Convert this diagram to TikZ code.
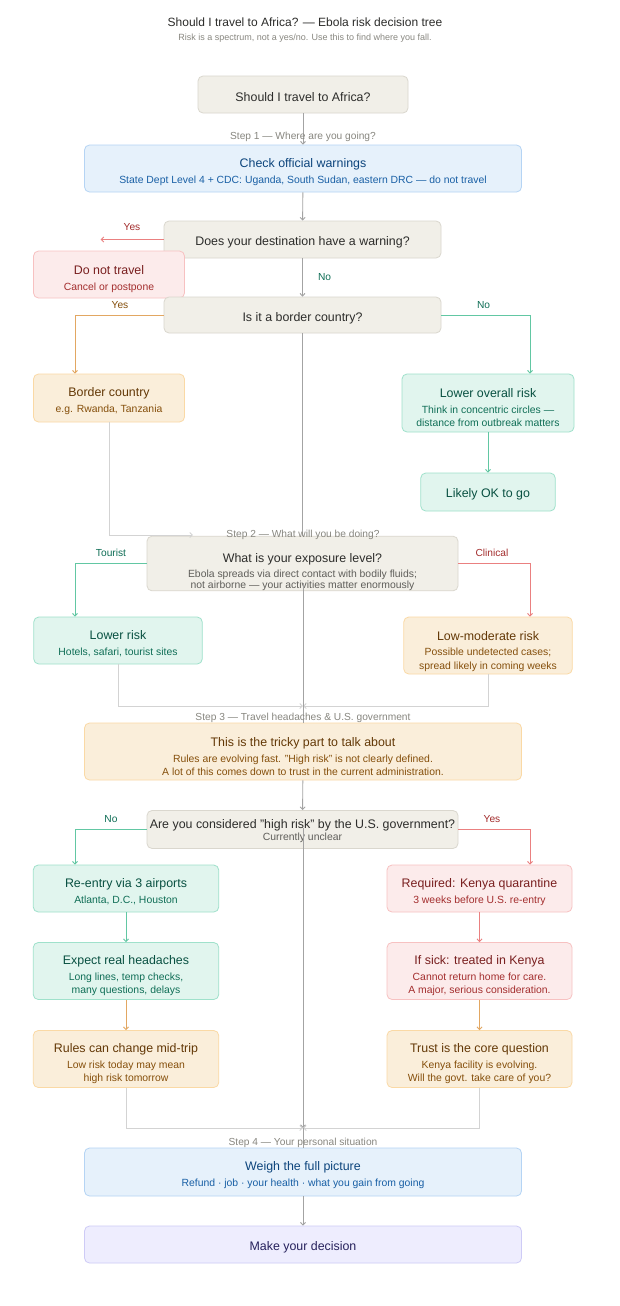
\documentclass[tikz,border=0pt]{standalone}
\usepackage{fontspec}
\setmainfont{Liberation Sans}
\usetikzlibrary{arrows.meta}
\definecolor{gfill}{HTML}{F1EFE8}\definecolor{gdraw}{HTML}{DAD7CE}\definecolor{gtext}{HTML}{2C2C2A}\definecolor{gsub}{HTML}{5F5E5A}
\definecolor{bfill}{HTML}{E6F1FB}\definecolor{bdraw}{HTML}{B5D4F4}\definecolor{btext}{HTML}{0C447C}\definecolor{bsub}{HTML}{185FA5}
\definecolor{rfill}{HTML}{FCEBEB}\definecolor{rdraw}{HTML}{F7C1C1}\definecolor{rtext}{HTML}{791F1F}\definecolor{rsub}{HTML}{A32D2D}
\definecolor{afill}{HTML}{FAEEDA}\definecolor{adraw}{HTML}{FAD9A5}\definecolor{atext}{HTML}{633806}\definecolor{asub}{HTML}{854F0B}
\definecolor{tfill}{HTML}{E1F5EE}\definecolor{tdraw}{HTML}{9FE1CB}\definecolor{ttext}{HTML}{085041}\definecolor{tsub}{HTML}{0F6E56}
\definecolor{pfill}{HTML}{EEEDFE}\definecolor{pdraw}{HTML}{CECBF6}\definecolor{ptext}{HTML}{26215C}
\definecolor{egray}{HTML}{A3A3A3}\definecolor{elight}{HTML}{D3D3D3}\definecolor{ered}{HTML}{EA8080}
\definecolor{egreen}{HTML}{62C7A3}\definecolor{eamber}{HTML}{E2A762}\definecolor{steptext}{HTML}{888780}
\newcommand\mytitle{\fontsize{12.4}{14}\selectfont}
\newcommand\mysub{\fontsize{10.4}{13.5}\selectfont}
\newcommand\mylab{\fontsize{10.2}{12}\selectfont}
\newcommand\myhA{\rule{0pt}{14pt}}
\newcommand\myhB{\rule{0pt}{16pt}}
\newcommand\myhC{\rule{0pt}{19pt}}
\tikzset{
  box/.style={rounded corners=5pt, line width=0.8pt, inner sep=0pt, align=center, anchor=center, font=\mysub},
  gbox/.style={box, fill=gfill, draw=gdraw, text=gtext},
  bbox/.style={box, fill=bfill, draw=bdraw, text=btext},
  rbox/.style={box, fill=rfill, draw=rdraw, text=rtext},
  abox/.style={box, fill=afill, draw=adraw, text=atext},
  tbox/.style={box, fill=tfill, draw=tdraw, text=ttext},
  pbox/.style={box, fill=pfill, draw=pdraw, text=ptext},
  tip/.style={-{Straight Barb[length=2.6pt,width=5pt]}},
  eg/.style={draw=egray, line width=0.9pt},
  el/.style={draw=elight, line width=0.9pt},
  er/.style={draw=ered, line width=0.9pt},
  egr/.style={draw=egreen, line width=0.9pt},
  ea/.style={draw=eamber, line width=0.9pt},
  steplab/.style={text=steptext, font=\mylab, inner sep=0pt},
  elab/.style={font=\mylab, inner sep=0pt},
}
\begin{document}
\begin{tikzpicture}[x=1pt,y=-1pt]
\fill[white] (0,0) rectangle (620,1306);
\useasboundingbox (0,0) rectangle (620,1306);

\node[text=gtext, font=\fontsize{12}{14}\selectfont, inner sep=0pt] (title) at (305,22) {Should I travel to Africa? — Ebola risk decision tree};
\node[text=steptext, font=\fontsize{9}{11}\selectfont, inner sep=0pt] (subtitle) at (305,38) {Risk is a spectrum, not a yes/no. Use this to find where you fall.};

% nodes
\node[gbox, minimum width=210, minimum height=37] (n0) at (303,94.5) {{\mytitle\myhA Should I travel to Africa?}};
\node[bbox, minimum width=437, minimum height=47] (check) at (303,168.5) {{\mytitle\myhB Check official warnings}\\[2.5pt]\textcolor{bsub}{State Dept Level 4 + CDC: Uganda, South Sudan, eastern DRC — do not travel}};
\node[gbox, minimum width=277, minimum height=37] (q1) at (302.5,239.5) {{\mytitle\myhA Does your destination have a warning?}};
\node[rbox, minimum width=151, minimum height=47] (dnt) at (109,274.5) {{\mytitle\rule{0pt}{18pt}Do not travel}\\[2.5pt]\textcolor{rsub}{Cancel or postpone}};
\node[gbox, minimum width=277, minimum height=36] (q2) at (302.5,315) {{\mytitle\rule{0pt}{15pt}Is it a border country?}};
\node[abox, minimum width=151, minimum height=48] (border) at (109,398) {{\mytitle\myhB Border country}\\[2.5pt]\textcolor{asub}{e.g. Rwanda, Tanzania}};
\node[tbox, minimum width=172, minimum height=58] (lowov) at (488,403) {{\mytitle\myhC Lower overall risk}\\[2pt]\textcolor{tsub}{Think in concentric circles —}\\\textcolor{tsub}{distance from outbreak matters}};
\node[tbox, minimum width=134.5, minimum height=38] (likely) at (488,492) {{\mytitle\myhA Likely OK to go}};
\node[gbox, minimum width=311, minimum height=49] (expo) at (302.5,563.5) {{\mytitle\rule{0pt}{26pt}What is your exposure level?}\\[2pt]\textcolor{gsub}{Ebola spreads via direct contact with bodily fluids;}\\[-2.5pt]\textcolor{gsub}{not airborne — your activities matter enormously}};
\node[tbox, minimum width=168.5, minimum height=47] (lowrisk) at (118,640.5) {{\mytitle\myhB Lower risk}\\[2.5pt]\textcolor{tsub}{Hotels, safari, tourist sites}};
\node[abox, minimum width=168.5, minimum height=57] (lowmod) at (488,645.5) {{\mytitle\rule{0pt}{21pt}Low-moderate risk}\\[2pt]\textcolor{asub}{Possible undetected cases;}\\\textcolor{asub}{spread likely in coming weeks}};
\node[abox, minimum width=437, minimum height=57] (tricky) at (303,751.5) {{\mytitle\rule{0pt}{20pt}This is the tricky part to talk about}\\[2pt]\textcolor{asub}{Rules are evolving fast. "High risk" is not clearly defined.}\\\textcolor{asub}{A lot of this comes down to trust in the current administration.}};
\node[gbox, minimum width=311, minimum height=38] (are) at (302.5,829.5) {{\mytitle\rule{0pt}{12pt}Are you considered "high risk" by the U.S. government?}\\[-2pt]\textcolor{gsub}{Currently unclear}};
\node[tbox, minimum width=185.5, minimum height=47] (reentry) at (126,888.5) {{\mytitle\myhB Re-entry via 3 airports}\\[2.5pt]\textcolor{tsub}{Atlanta, D.C., Houston}};
\node[tbox, minimum width=185.5, minimum height=57] (expect) at (126,971) {{\mytitle\myhC Expect real headaches}\\[2pt]\textcolor{tsub}{Long lines, temp checks,}\\\textcolor{tsub}{many questions, delays}};
\node[abox, minimum width=185.5, minimum height=57] (rules) at (126,1059) {{\mytitle\myhC Rules can change mid-trip}\\[2pt]\textcolor{asub}{Low risk today may mean}\\\textcolor{asub}{high risk tomorrow}};
\node[rbox, minimum width=185, minimum height=47] (required) at (479.5,888.5) {{\mytitle\myhB Required: Kenya quarantine}\\[2.5pt]\textcolor{rsub}{3 weeks before U.S. re-entry}};
\node[rbox, minimum width=185, minimum height=57] (ifsick) at (479.5,971) {{\mytitle\myhC If sick: treated in Kenya}\\[2pt]\textcolor{rsub}{Cannot return home for care.}\\\textcolor{rsub}{A major, serious consideration.}};
\node[abox, minimum width=185, minimum height=57] (trust) at (479.5,1059) {{\mytitle\myhC Trust is the core question}\\[2pt]\textcolor{asub}{Kenya facility is evolving.}\\\textcolor{asub}{Will the govt. take care of you?}};
\node[bbox, minimum width=437, minimum height=48] (weigh) at (303,1172) {{\mytitle\myhB Weigh the full picture}\\[2.5pt]\textcolor{bsub}{Refund · job · your health · what you gain from going}};
\node[pbox, minimum width=437, minimum height=37] (make) at (303,1244.5) {{\mytitle\rule{0pt}{14pt}Make your decision}};

% coordinates
\coordinate (yesend) at (100.6,239.5);
\coordinate (b2end) at (193,535);
\coordinate (m3) at (303,706);
\coordinate (m4) at (303,1128);
\coordinate (expoIn) at (303,583);
\coordinate (areIn) at (303,828);

% connectors
\draw[eg,tip] (n0) -- (check);
\draw[eg,tip] (check) -- (q1);
\draw[er,tip] (q1.west) -- (yesend);
\draw[eg,tip] (q1) -- (q2);
\draw[ea,tip] (q2.west) -| ([xshift=-34pt]border.north);
\draw[egr,tip] (q2.east) -| ([xshift=42pt]lowov.north);
\draw[egr,tip] (lowov) -- (likely);
\draw[el,tip] (border.south) |- (b2end);
\draw[eg] (q2) -- (expo);
\draw[egr,tip] (expo.west) -| ([xshift=-43pt]lowrisk.north);
\draw[er,tip] (expo.east) -| ([xshift=42pt]lowmod.north);
\draw[el,tip] (lowrisk.south) |- (m3);
\draw[el,tip] (lowmod.south) |- (m3);
\draw[eg] (expoIn) -- (m3);
\draw[eg] (m3) -- (tricky);
\draw[eg,tip] (tricky) -- (are);
\draw[egr,tip] (are.west) -| ([xshift=-51pt]reentry.north);
\draw[er,tip] (are.east) -| ([xshift=50.5pt]required.north);
\draw[egr,tip] (reentry) -- (expect);
\draw[ea,tip] (expect) -- (rules);
\draw[er,tip] (required) -- (ifsick);
\draw[ea,tip] (ifsick) -- (trust);
\draw[el,tip] (rules.south) |- (m4);
\draw[el,tip] (trust.south) |- (m4);
\draw[eg,tip] (areIn) -- (m4);
\draw[eg] (m4) -- (weigh);
\draw[eg,tip] (weigh) -- (make);

% step labels
\node[steplab] (s1) at (303,137) {Step 1 — Where are you going?};
\node[steplab] (s2) at (303,535) {Step 2 — What will you be doing?};
\node[steplab] (s3) at (303,718) {Step 3 — Travel headaches \& U.S. government};
\node[steplab] (s4) at (303,1143) {Step 4 — Your personal situation};

% edge labels
\node[elab, text=rsub] (lyes1) at (132,227) {Yes};
\node[elab, text=tsub] (lno1) at (324.6,277) {No};
\node[elab, text=asub] (lyes2) at (120,305.5) {Yes};
\node[elab, text=tsub] (lno2) at (483.6,305.5) {No};
\node[elab, text=tsub] (ltour) at (111,553) {Tourist};
\node[elab, text=rsub] (lclin) at (492,553) {Clinical};
\node[elab, text=tsub] (lno3) at (111,819) {No};
\node[elab, text=rsub] (lyes3) at (492,819) {Yes};
\end{tikzpicture}
\end{document}
